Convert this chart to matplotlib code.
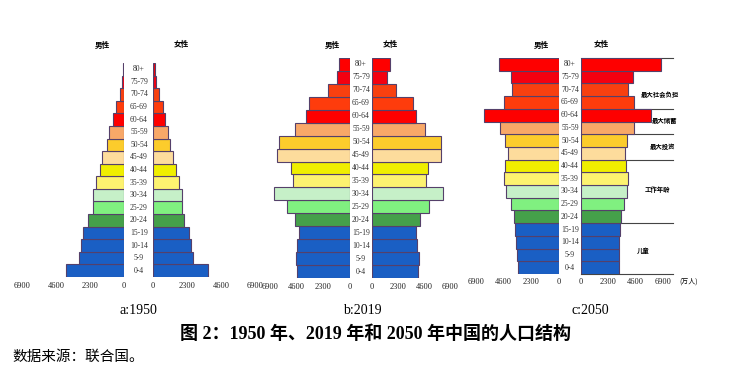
import matplotlib
matplotlib.use("Agg")
import matplotlib.pyplot as plt

plt.rcParams['font.family'] = ['Liberation Serif', 'Noto Sans CJK SC']

ages = ["0-4", "5-9", "10-14", "15-19", "20-24", "25-29", "30-34", "35-39",
        "40-44", "45-49", "50-54", "55-59", "60-64", "65-69", "70-74", "75-79", "80+"]

male_1950 = [3920, 3050, 2900, 2770, 2440, 2100, 2080, 1900, 1640, 1490, 1180, 1030, 750, 510, 270, 160, 70]
female_1950 = [3720, 2700, 2570, 2430, 2100, 1960, 1980, 1760, 1550, 1360, 1150, 1020, 800, 650, 400, 230, 130]

male_2019 = [4540, 4660, 4540, 4430, 4740, 5460, 6560, 4950, 5120, 6270, 6100, 4720, 3800, 3540, 1930, 1150, 980]
female_2019 = [4060, 4120, 3980, 3920, 4270, 5050, 6270, 4780, 4930, 6120, 6060, 4720, 3880, 3640, 2150, 1370, 1550]

male_2050 = [3440, 3520, 3580, 3630, 3740, 4020, 4430, 4600, 4460, 4270, 4520, 4930, 6230, 4540, 3880, 3990, 4960]
female_2050 = [3180, 3180, 3230, 3290, 3350, 3600, 3900, 3930, 3760, 3710, 3900, 4430, 5850, 4430, 3960, 4380, 6690]

ticks = [0, 2300, 4600, 6900]
panel_labels = ["a:1950", "b:2019", "c:2050"]

colors = ['#1a5fc4', '#1a5fc4', '#1a5fc4', '#1a5fc4', '#45a04a', '#80f080', '#c6f0c8',
          '#fdf270', '#f0ee00', '#fddc9c', '#fccc2c', '#f8a868', '#fe0000', '#fe3c0c',
          '#f84010', '#f40010', '#fe0000']
edge = '#55406a'

# c panel annotations
region_bounds = [3.5, 8.5, 10.5, 12.5, 16.5]
region_bottom = -0.5
region_labels = ["儿童", "工作年龄", "最大投资", "最大储蓄", "最大社会负担"]

W, H = 740, 385
fig = plt.figure(figsize=(W / 100, H / 100), dpi=100)
fig.patch.set_facecolor('white')


def add_ax(x0, x1, ytop, ybot):
    return fig.add_axes([x0 / W, 1 - ybot / H, (x1 - x0) / W, (ybot - ytop) / H])


panels = [
    dict(male=male_1950, female=female_1950, m=(22, 124), f=(153, 255), y=(63, 277),
         mid=139, hm=102, hf=181, lab=138, fmax=6900),
    dict(male=male_2019, female=female_2019, m=(270, 350), f=(372, 450), y=(58, 278),
         mid=361, hm=332, hf=390, lab=362, fmax=6900),
    dict(male=male_2050, female=female_2050, m=(476, 559), f=(581, 673), y=(58, 274),
         mid=570, hm=541, hf=601, lab=590, fmax=6900 * 92 / 82),
]

pos = list(range(len(ages)))
for k, p in enumerate(panels):
    axm = add_ax(p['m'][0], p['m'][1], p['y'][0], p['y'][1])
    axf = add_ax(p['f'][0], p['f'][1], p['y'][0], p['y'][1])
    axm.barh(pos, p['male'], height=1.0, color=colors, edgecolor=edge, linewidth=0.8, zorder=3)
    axf.barh(pos, p['female'], height=1.0, color=colors, edgecolor=edge, linewidth=0.8, zorder=3)
    axm.set_xlim(6900, 0)
    axf.set_xlim(0, p['fmax'])
    pad = 3.5 if k < 2 else 3.0
    for ax in (axm, axf):
        ax.set_ylim(-0.5, 16.5)
        ax.set_yticks([])
        ax.set_xticks(ticks)
        ax.set_xticklabels([str(t) for t in ticks])
        ax.tick_params(axis='x', length=0, labelsize=6, pad=pad, colors='#222222')
        for s in ax.spines.values():
            s.set_visible(False)
        ax.patch.set_alpha(0)
    ytop, ybot = p['y']
    h = (ybot - ytop) / len(ages)
    for i, a in enumerate(ages):
        yp = ybot - (i + 0.5) * h
        fig.text(p['mid'] / W, 1 - yp / H, a, ha='center', va='center', fontsize=5.5,
                 color='#333333')
    fig.text(p['hm'] / W, 1 - 45 / H, "男性", ha='center', va='center', fontsize=5.5,
             fontweight='bold', family=['Noto Sans CJK SC'])
    fig.text(p['hf'] / W, 1 - 45 / H, "女性", ha='center', va='center', fontsize=5.5,
             fontweight='bold', family=['Noto Sans CJK SC'])
    fig.text(p['lab'] / W, 1 - 311 / H, panel_labels[k], ha='center', va='center', fontsize=10)

    if k == 2:
        xend = p['fmax']
        for b in [region_bottom] + region_bounds:
            axf.plot([0, xend], [b, b], color='#444444', lw=0.8, zorder=1, clip_on=False)
        fig.text(679 / W, 1 - 282 / H, "(万人)", ha='left', va='center', fontsize=5,
                 family=['Noto Sans CJK SC'])

label_pos = [(643, 250), (657, 189), (662, 146), (664, 120), (660, 95)]
for (x, y), t in zip(label_pos, region_labels):
    fig.text(x / W, 1 - y / H, t, ha='center', va='center', fontsize=4.6, fontweight='bold',
             family=['Noto Sans CJK SC'])

fig.text(376 / W, 1 - 334 / H, "图 2：1950 年、2019 年和 2050 年中国的人口结构", ha='center',
         va='center', fontsize=13, fontweight='bold')
fig.text(12 / W, 1 - 357 / H, "数据来源：联合国。", ha='left', va='center', fontsize=10.5,
         family=['Noto Sans CJK SC'])

fig.savefig("out.png", dpi=100, facecolor='white')
